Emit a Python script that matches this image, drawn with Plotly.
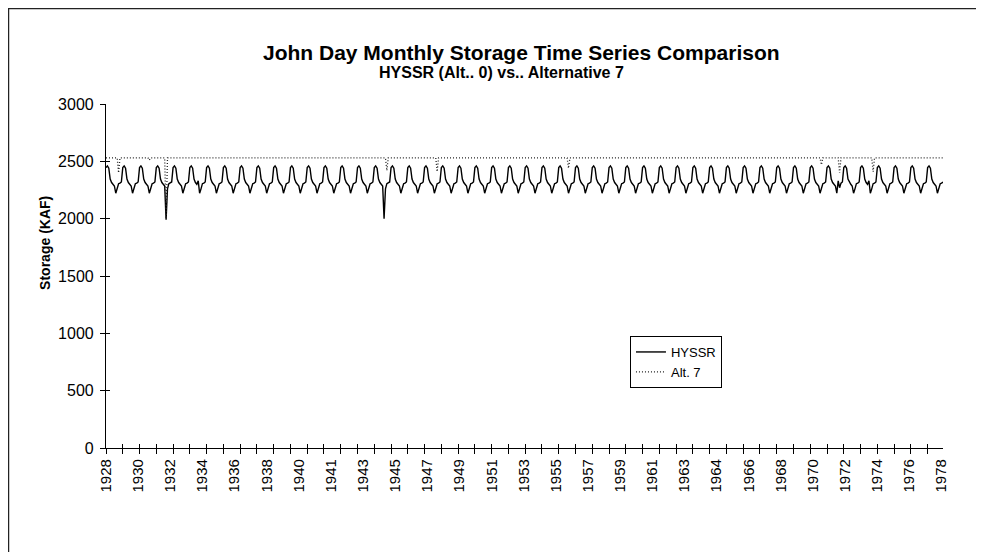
import plotly.graph_objects as go

# ---------------- data (monthly, July 1928 - June 1978), values in KAF ----------------
TICK_LABELS = ["1928", "1930", "1932", "1934", "1936", "1938", "1940", "1941", "1943",
               "1945", "1947", "1949", "1951", "1953", "1955", "1957", "1959", "1961",
               "1963", "1964", "1966", "1968", "1970", "1972", "1974", "1976", "1978"]

# one row per operating year (Jul .. Jun)
HYSSR_ROWS = [
    [2445, 2460, 2440, 2345, 2315, 2300, 2285, 2222, 2260, 2305, 2310, 2320],  # 1928-29
    [2445, 2460, 2440, 2345, 2315, 2300, 2285, 2222, 2260, 2305, 2310, 2320],
    [2445, 2460, 2440, 2345, 2315, 2300, 2285, 2222, 2260, 2305, 2310, 2320],
    [2445, 2460, 2440, 2345, 2315, 2300, 2285, 1990, 2260, 2305, 2310, 2320],  # 1931-32
    [2445, 2460, 2440, 2345, 2315, 2300, 2285, 2222, 2260, 2305, 2310, 2320],
    [2445, 2460, 2440, 2345, 2315, 2300, 2330, 2222, 2260, 2305, 2310, 2320],
    [2445, 2460, 2440, 2345, 2315, 2300, 2285, 2222, 2260, 2305, 2310, 2320],
    [2445, 2460, 2440, 2345, 2315, 2300, 2285, 2222, 2260, 2305, 2310, 2320],
    [2445, 2460, 2440, 2345, 2315, 2300, 2285, 2222, 2260, 2305, 2310, 2320],
    [2445, 2460, 2440, 2345, 2315, 2300, 2285, 2222, 2260, 2305, 2310, 2320],
    [2445, 2460, 2440, 2345, 2315, 2300, 2285, 2222, 2260, 2305, 2310, 2320],  # 1938-39
    [2445, 2460, 2440, 2345, 2315, 2300, 2285, 2222, 2260, 2305, 2310, 2320],
    [2445, 2460, 2440, 2345, 2315, 2300, 2285, 2222, 2260, 2305, 2310, 2320],
    [2445, 2460, 2440, 2345, 2315, 2300, 2285, 2222, 2260, 2305, 2310, 2320],
    [2445, 2460, 2440, 2345, 2315, 2300, 2285, 2222, 2260, 2305, 2310, 2320],
    [2445, 2460, 2440, 2345, 2315, 2300, 2285, 2222, 2260, 2305, 2310, 2320],
    [2445, 2460, 2440, 2345, 2315, 2300, 2285, 2000, 2260, 2305, 2310, 2320],  # 1944-45
    [2445, 2460, 2440, 2345, 2315, 2300, 2285, 2222, 2260, 2305, 2310, 2320],
    [2445, 2460, 2440, 2345, 2315, 2300, 2285, 2222, 2260, 2305, 2310, 2320],
    [2445, 2460, 2440, 2345, 2315, 2300, 2285, 2222, 2260, 2305, 2310, 2320],
    [2445, 2460, 2440, 2345, 2315, 2300, 2285, 2222, 2260, 2305, 2310, 2320],  # 1948-49
    [2445, 2460, 2440, 2345, 2315, 2300, 2285, 2222, 2260, 2305, 2310, 2320],
    [2445, 2460, 2440, 2345, 2315, 2300, 2285, 2222, 2260, 2305, 2310, 2320],
    [2445, 2460, 2440, 2345, 2315, 2300, 2285, 2222, 2260, 2305, 2310, 2320],
    [2445, 2460, 2440, 2345, 2315, 2300, 2285, 2222, 2260, 2305, 2310, 2320],
    [2445, 2460, 2440, 2345, 2315, 2300, 2285, 2222, 2260, 2305, 2310, 2320],
    [2445, 2460, 2440, 2345, 2315, 2300, 2285, 2222, 2260, 2305, 2310, 2320],
    [2445, 2460, 2440, 2345, 2315, 2300, 2285, 2222, 2260, 2305, 2310, 2320],
    [2445, 2460, 2440, 2345, 2315, 2300, 2285, 2222, 2260, 2305, 2310, 2320],
    [2445, 2460, 2440, 2345, 2315, 2300, 2285, 2222, 2260, 2305, 2310, 2320],
    [2445, 2460, 2440, 2345, 2315, 2300, 2285, 2222, 2260, 2305, 2310, 2320],  # 1958-59
    [2445, 2460, 2440, 2345, 2315, 2300, 2285, 2222, 2260, 2305, 2310, 2320],
    [2445, 2460, 2440, 2345, 2315, 2300, 2285, 2222, 2260, 2305, 2310, 2320],
    [2445, 2460, 2440, 2345, 2315, 2300, 2285, 2222, 2260, 2305, 2310, 2320],
    [2445, 2460, 2440, 2345, 2315, 2300, 2285, 2222, 2260, 2305, 2310, 2320],
    [2445, 2460, 2440, 2345, 2315, 2300, 2285, 2222, 2260, 2305, 2310, 2320],
    [2445, 2460, 2440, 2345, 2315, 2300, 2285, 2222, 2260, 2305, 2310, 2320],
    [2445, 2460, 2440, 2345, 2315, 2300, 2285, 2222, 2260, 2305, 2310, 2320],
    [2445, 2460, 2440, 2345, 2315, 2300, 2285, 2222, 2260, 2305, 2310, 2320],
    [2445, 2460, 2440, 2345, 2315, 2300, 2285, 2222, 2260, 2305, 2310, 2320],
    [2445, 2460, 2440, 2345, 2315, 2300, 2285, 2222, 2260, 2305, 2310, 2320],  # 1968-69
    [2445, 2460, 2440, 2345, 2315, 2300, 2285, 2222, 2260, 2305, 2310, 2320],
    [2445, 2460, 2440, 2345, 2315, 2300, 2285, 2222, 2260, 2305, 2310, 2320],
    [2445, 2460, 2440, 2345, 2315, 2300, 2285, 2222, 2330, 2270, 2310, 2320],  # 1971-72
    [2445, 2460, 2440, 2345, 2315, 2300, 2285, 2222, 2260, 2305, 2310, 2320],
    [2445, 2460, 2440, 2345, 2315, 2300, 2330, 2222, 2260, 2305, 2310, 2320],  # 1973-74
    [2445, 2460, 2440, 2345, 2315, 2300, 2285, 2222, 2260, 2305, 2310, 2320],
    [2445, 2460, 2440, 2345, 2315, 2300, 2285, 2222, 2260, 2305, 2310, 2320],
    [2445, 2460, 2440, 2345, 2315, 2300, 2285, 2222, 2260, 2305, 2310, 2320],
    [2445, 2460, 2440, 2345, 2315, 2300, 2285, 2222, 2260, 2305, 2310, 2320],  # 1977-78
]

ALT7_ROWS = [
    [2530, 2530, 2530, 2530, 2530, 2530, 2530, 2530, 2530, 2400, 2530, 2530],  # 1928-29
    [2530, 2530, 2530, 2530, 2530, 2530, 2530, 2530, 2530, 2530, 2530, 2530],
    [2530, 2530, 2530, 2530, 2530, 2530, 2530, 2510, 2530, 2530, 2530, 2530],
    [2530, 2530, 2530, 2530, 2530, 2530, 2530, 2000, 2530, 2530, 2530, 2530],  # 1931-32
    [2530, 2530, 2530, 2530, 2530, 2530, 2530, 2530, 2530, 2530, 2530, 2530],
    [2530, 2530, 2530, 2530, 2530, 2530, 2530, 2530, 2530, 2530, 2530, 2530],
    [2530, 2530, 2530, 2530, 2530, 2530, 2530, 2530, 2530, 2530, 2530, 2530],
    [2530, 2530, 2530, 2530, 2530, 2530, 2530, 2530, 2530, 2530, 2530, 2530],
    [2530, 2530, 2530, 2530, 2530, 2530, 2530, 2530, 2530, 2530, 2530, 2530],
    [2530, 2530, 2530, 2530, 2530, 2530, 2530, 2530, 2530, 2530, 2530, 2530],
    [2530, 2530, 2530, 2530, 2530, 2530, 2530, 2530, 2530, 2530, 2530, 2530],  # 1938-39
    [2530, 2530, 2530, 2530, 2530, 2530, 2530, 2530, 2530, 2530, 2530, 2530],
    [2530, 2530, 2530, 2530, 2530, 2530, 2530, 2530, 2530, 2530, 2530, 2530],
    [2530, 2530, 2530, 2530, 2530, 2530, 2530, 2530, 2530, 2530, 2530, 2530],
    [2530, 2530, 2530, 2530, 2530, 2530, 2530, 2530, 2530, 2530, 2530, 2530],
    [2530, 2530, 2530, 2530, 2530, 2530, 2530, 2530, 2530, 2530, 2530, 2530],
    [2530, 2530, 2530, 2530, 2530, 2530, 2530, 2530, 2530, 2420, 2530, 2530],  # 1944-45
    [2530, 2530, 2530, 2530, 2530, 2530, 2530, 2530, 2530, 2530, 2530, 2530],
    [2530, 2530, 2530, 2530, 2530, 2530, 2530, 2530, 2530, 2530, 2530, 2530],
    [2530, 2530, 2530, 2530, 2530, 2530, 2530, 2530, 2530, 2410, 2530, 2530],  # 1947-48
    [2530, 2530, 2530, 2530, 2530, 2530, 2530, 2530, 2530, 2530, 2530, 2530],
    [2530, 2530, 2530, 2530, 2530, 2530, 2530, 2530, 2530, 2530, 2530, 2530],
    [2530, 2530, 2530, 2530, 2530, 2530, 2530, 2530, 2530, 2530, 2530, 2530],
    [2530, 2530, 2530, 2530, 2530, 2530, 2530, 2530, 2530, 2530, 2530, 2530],
    [2530, 2530, 2530, 2530, 2530, 2530, 2530, 2530, 2530, 2530, 2530, 2530],
    [2530, 2530, 2530, 2530, 2530, 2530, 2530, 2530, 2530, 2530, 2530, 2530],
    [2530, 2530, 2530, 2530, 2530, 2530, 2530, 2530, 2530, 2530, 2530, 2530],
    [2530, 2530, 2530, 2530, 2530, 2530, 2530, 2440, 2530, 2530, 2530, 2530],  # 1955-56
    [2530, 2530, 2530, 2530, 2530, 2530, 2530, 2530, 2530, 2530, 2530, 2530],
    [2530, 2530, 2530, 2530, 2530, 2530, 2530, 2530, 2530, 2530, 2530, 2530],
    [2530, 2530, 2530, 2530, 2530, 2530, 2530, 2530, 2530, 2530, 2530, 2530],
    [2530, 2530, 2530, 2530, 2530, 2530, 2530, 2530, 2530, 2530, 2530, 2530],
    [2530, 2530, 2530, 2530, 2530, 2530, 2530, 2530, 2530, 2530, 2530, 2530],
    [2530, 2530, 2530, 2530, 2530, 2530, 2530, 2530, 2530, 2530, 2530, 2530],
    [2530, 2530, 2530, 2530, 2530, 2530, 2530, 2530, 2530, 2530, 2530, 2530],
    [2530, 2530, 2530, 2530, 2530, 2530, 2530, 2530, 2530, 2530, 2530, 2530],
    [2530, 2530, 2530, 2530, 2530, 2530, 2530, 2530, 2530, 2530, 2530, 2530],
    [2530, 2530, 2530, 2530, 2530, 2530, 2530, 2530, 2530, 2530, 2530, 2530],
    [2530, 2530, 2530, 2530, 2530, 2530, 2530, 2530, 2530, 2530, 2530, 2530],
    [2530, 2530, 2530, 2530, 2530, 2530, 2530, 2530, 2530, 2530, 2530, 2530],
    [2530, 2530, 2530, 2530, 2530, 2530, 2530, 2530, 2530, 2530, 2530, 2530],
    [2530, 2530, 2530, 2530, 2530, 2530, 2530, 2530, 2530, 2530, 2530, 2530],
    [2530, 2530, 2530, 2530, 2530, 2530, 2530, 2530, 2470, 2530, 2530, 2530],  # 1970-71
    [2530, 2530, 2530, 2530, 2530, 2530, 2530, 2530, 2530, 2400, 2530, 2530],  # 1971-72
    [2530, 2530, 2530, 2530, 2530, 2530, 2530, 2530, 2530, 2530, 2530, 2530],
    [2530, 2530, 2530, 2530, 2530, 2530, 2530, 2530, 2530, 2410, 2530, 2530],  # 1973-74
    [2530, 2530, 2530, 2530, 2530, 2530, 2530, 2530, 2530, 2530, 2530, 2530],
    [2530, 2530, 2530, 2530, 2530, 2530, 2530, 2530, 2530, 2530, 2530, 2530],
    [2530, 2530, 2530, 2530, 2530, 2530, 2530, 2530, 2530, 2530, 2530, 2530],
    [2530, 2530, 2530, 2530, 2530, 2530, 2530, 2530, 2530, 2530, 2530, 2530],  # 1977-78
]

Y_TICKS = [0, 500, 1000, 1500, 2000, 2500, 3000]
LABEL_EVERY = 23   # months between tick labels
TICK_EVERY = 12    # months between tick marks

hyssr = [v for row in HYSSR_ROWS for v in row]
alt7 = [v for row in ALT7_ROWS for v in row]
months = list(range(len(hyssr)))

FONT = "Liberation Sans, Arial, sans-serif"

fig = go.Figure()
fig.add_trace(go.Scatter(x=months, y=hyssr, mode="lines", name="HYSSR",
                         line=dict(color="black", width=1.4)))
fig.add_trace(go.Scatter(x=months, y=alt7, mode="lines", name="Alt. 7",
                         line=dict(color="#222222", width=1.3, dash="1px,2px")))
# empty trace that carries the overlay axes used for the inner half of the cross ticks
fig.add_trace(go.Scatter(x=[], y=[], xaxis="x2", yaxis="y2", showlegend=False,
                         hoverinfo="skip"))

x_range = [months[0], months[-1]]
y_range = [Y_TICKS[0], Y_TICKS[-1]]

fig.update_layout(
    width=976, height=544,
    margin=dict(l=98, r=41, t=96, b=104),
    paper_bgcolor="white", plot_bgcolor="white",
    font=dict(family=FONT, color="black"),
    showlegend=True,
    legend=dict(x=0.626, y=0.3256, xanchor="left", yanchor="top",
                bordercolor="black", borderwidth=1, bgcolor="white",
                font=dict(size=13, family=FONT), itemwidth=30,
                tracegroupgap=0),
    xaxis=dict(range=x_range, tickmode="array",
               tickvals=months[::LABEL_EVERY], ticktext=TICK_LABELS,
               tickangle=-90, ticks="", tickfont=dict(size=15, family=FONT),
               ticklabelstandoff=4,
               showline=True, linecolor="black", linewidth=1.2,
               showgrid=False, zeroline=False,
               minor=dict(tickmode="array", tickvals=months[::TICK_EVERY],
                          ticks="outside", ticklen=5, tickcolor="black",
                          tickwidth=1, showgrid=False)),
    xaxis2=dict(overlaying="x", anchor="y", side="bottom", range=x_range,
                tickmode="array", tickvals=months[::TICK_EVERY],
                ticks="inside", ticklen=4, tickcolor="black", tickwidth=1,
                showticklabels=False, showline=False, showgrid=False,
                zeroline=False),
    yaxis=dict(range=y_range, tickmode="array", tickvals=Y_TICKS,
               ticks="outside", ticklen=5, tickcolor="black",
               tickfont=dict(size=16, family=FONT), ticklabelstandoff=3,
               showline=True, linecolor="black", linewidth=1.2,
               showgrid=False, zeroline=False),
    yaxis2=dict(overlaying="y", anchor="x", side="left", range=y_range,
                tickmode="array", tickvals=Y_TICKS, ticks="inside", ticklen=4,
                tickcolor="black", showticklabels=False, showline=False,
                showgrid=False, zeroline=False),
)

fig.add_annotation(text="<b>John Day Monthly Storage Time Series Comparison</b>",
                   xref="paper", yref="paper", x=0.496, y=1.151,
                   xanchor="center", yanchor="middle", showarrow=False,
                   font=dict(size=21, family=FONT))
fig.add_annotation(text="<b>HYSSR (Alt.. 0) vs.. Alternative 7</b>",
                   xref="paper", yref="paper", x=0.472, y=1.093,
                   xanchor="center", yanchor="middle", showarrow=False,
                   font=dict(size=16, family=FONT))
fig.add_annotation(text="<b>Storage (KAF)</b>", textangle=-90,
                   xref="paper", yref="paper", x=-0.073, y=0.596,
                   xanchor="center", yanchor="middle", showarrow=False,
                   font=dict(size=14, family=FONT))

# outer chart frame (only its top and left edges fall inside the picture)
fig.add_shape(type="rect", xref="paper", yref="paper",
              x0=-0.1165, x1=1.2, y0=-0.4, y1=1.2776,
              line=dict(color="#222222", width=1.5), layer="below")

fig.write_html("out.html")
